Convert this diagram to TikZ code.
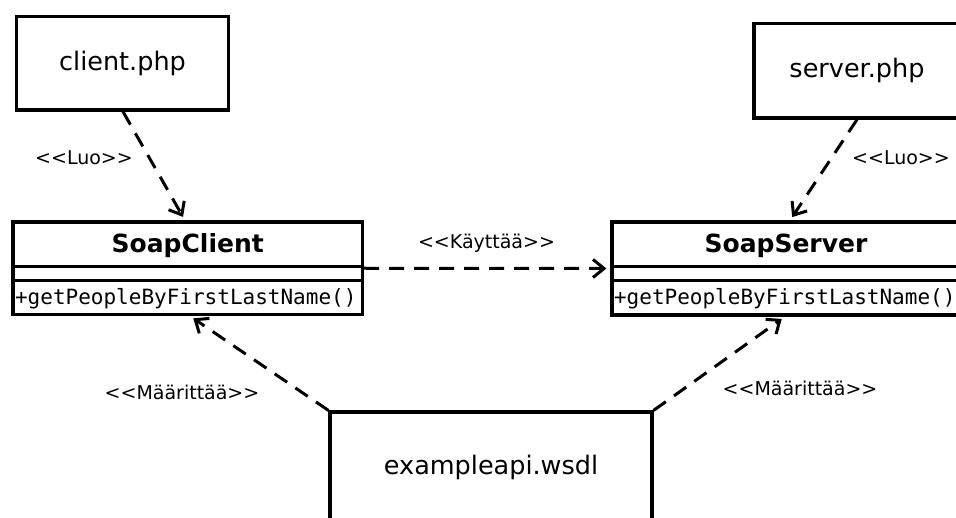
\documentclass[tikz,border=0pt]{standalone}
\usepackage{fontspec}
\setmainfont{DejaVu Sans}
\setmonofont{DejaVu Sans Mono}
\usetikzlibrary{arrows.meta,calc}
\newcommand{\stereo}[1]{<\kern0pt<#1>\kern0pt>}
\begin{document}
\begin{tikzpicture}[x=1pt,y=-1pt,
  box/.style={draw, line width=3.2pt, inner sep=0pt, font=\fontsize{25.5}{28}\selectfont},
  cls/.style={draw, line width=3.2pt, inner sep=0pt},
  clsname/.style={font=\bfseries\fontsize{25}{28}\selectfont, inner sep=0pt},
  meth/.style={font=\ttfamily\fontsize{21}{24}\selectfont, inner sep=0pt, anchor=west},
  lbl/.style={font=\fontsize{19}{22}\selectfont, inner sep=0pt},
  dep/.style={line width=3pt, dash pattern=on 15pt off 10pt, shorten >=4pt,
    -{Straight Barb[length=11pt,width=18pt]}},
  sepline/.style={line width=3pt}
]
\useasboundingbox (0,0) rectangle (956,518);
\clip (0,0) rectangle (956,518);

% simple boxes
\node[box, minimum width=212pt, minimum height=93.5pt] (cp) at (122.5,63.25) {client.php};
\node[box, minimum width=206pt, minimum height=94.5pt] (sp) at (857,70.75) {server.php};
\node[box, minimum width=322pt, minimum height=110pt] (ws) at (491,467) {exampleapi.wsdl};

% class boxes
\node[cls, minimum width=349.5pt, minimum height=92.5pt] (sc) at (187.75,268.25) {};
\node[cls, minimum width=348pt, minimum height=93pt] (ss) at (786,268.5) {};

\node[clsname] (scn) at ($(sc.north)+(0,25)$) {SoapClient};
\node[clsname] (ssn) at ($(ss.north)+(0,25)$) {SoapServer};

\draw[sepline] ($(sc.north west)+(0,46)$) -- ($(sc.north east)+(0,46)$);
\draw[sepline] ($(sc.north west)+(0,60)$) -- ($(sc.north east)+(0,60)$);
\draw[sepline] ($(ss.north west)+(0,46)$) -- ($(ss.north east)+(0,46)$);
\draw[sepline] ($(ss.north west)+(0,60)$) -- ($(ss.north east)+(0,60)$);

\node[meth] (scm) at ($(sc.west)+(3.5,30)$) {+getPeopleByFirstLastName()};
\node[meth] (ssm) at ($(ss.west)+(3.5,30)$) {+getPeopleByFirstLastName()};

% dependencies
\draw[dep] ([xshift=0.5pt]cp.south) -- ([xshift=-2.75pt]sc.north);
\draw[dep] (sp.south) -- ([xshift=4pt]ss.north);
\draw[dep] (sc.east) -- (ss.west);
\draw[dep] (ws.north west) -- ([xshift=2.25pt]sc.south);
\draw[dep] (ws.north east) -- ([xshift=-1pt]ss.south);

% labels
\node[lbl] (l1) at (84,158) {\stereo{Luo}};
\node[lbl] (l2) at (901,158) {\stereo{Luo}};
\node[lbl] (l3) at (486.5,243) {\stereo{Käyttää}};
\node[lbl] (l4) at (182,392) {\stereo{Määrittää}};
\node[lbl] (l5) at (800,388) {\stereo{Määrittää}};
\end{tikzpicture}
\end{document}
